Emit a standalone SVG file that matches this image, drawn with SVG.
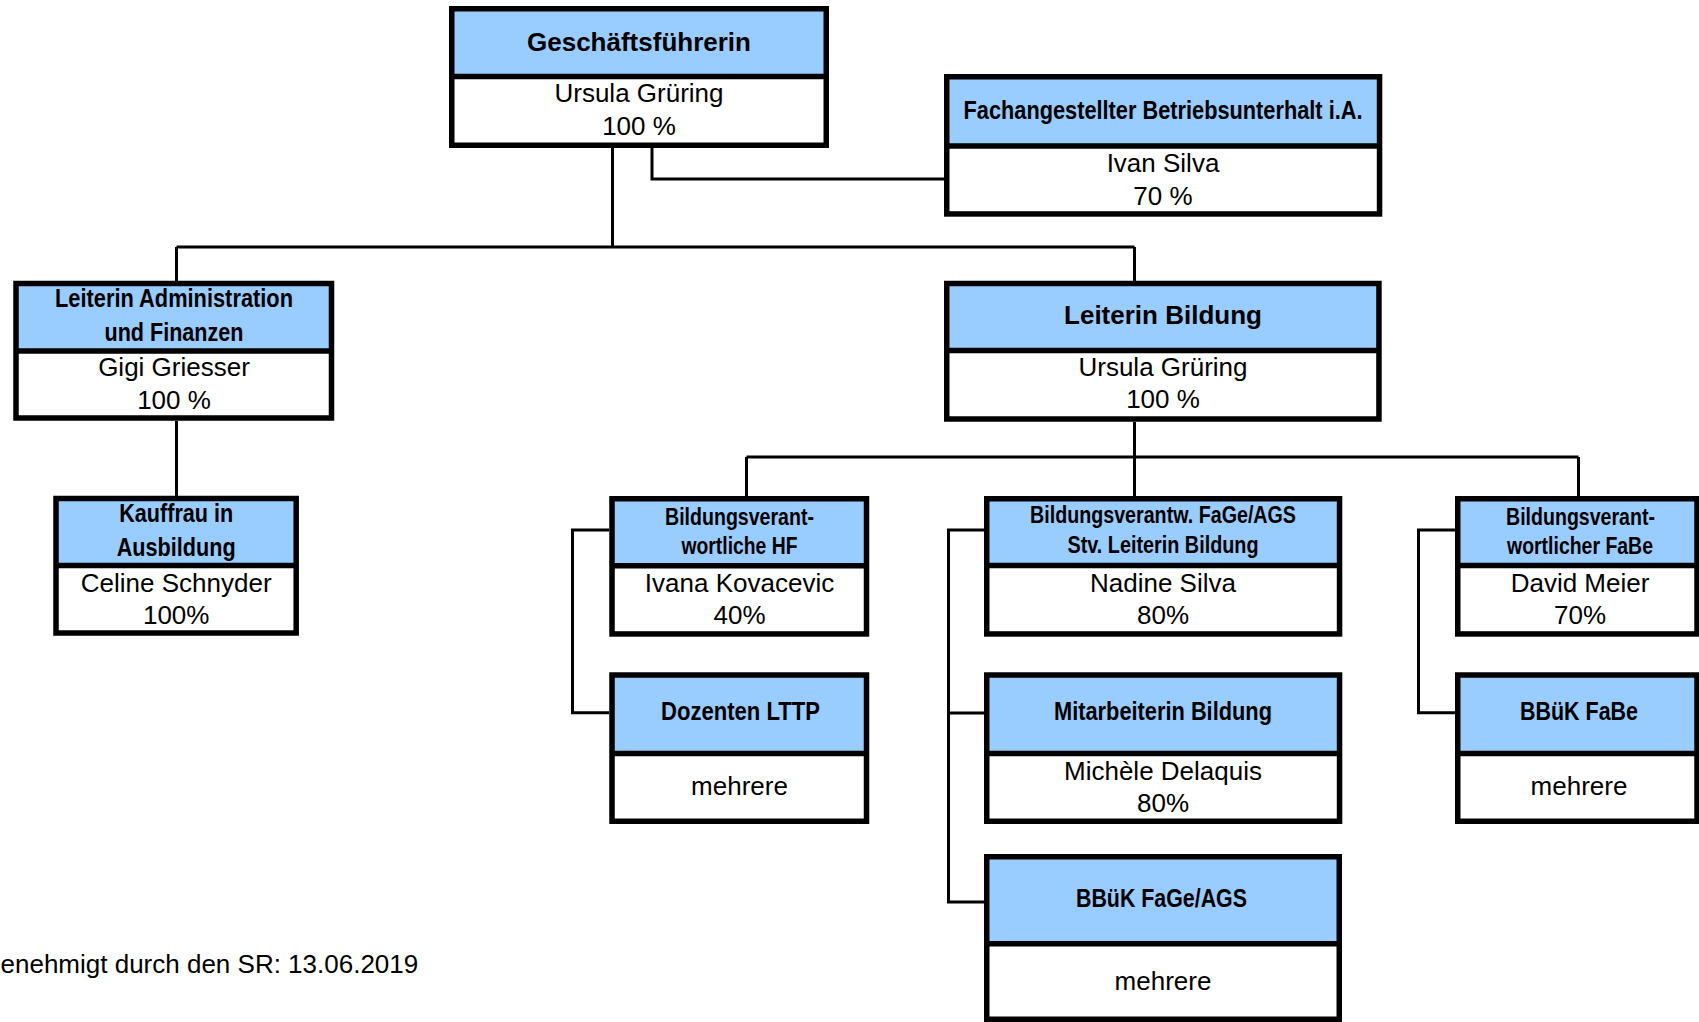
<svg xmlns="http://www.w3.org/2000/svg" width="1699" height="1022" viewBox="0 0 1699 1022">
<style>
.hd{fill:#99CCFF;stroke:none}
.bd{fill:#FFFFFF;stroke:none}
.fr{fill:none;stroke:#000;stroke-width:5.5}
.dv{stroke:#000;stroke-width:5.5}
.cn{fill:none;stroke:#000;stroke-width:3}
.t{font-family:"Liberation Sans",Arial,sans-serif;font-size:26px;fill:#000;text-anchor:middle}
.b{font-family:"Liberation Sans",Arial,sans-serif;font-size:26px;font-weight:bold;fill:#000;text-anchor:middle}
.n{font-family:"Liberation Sans Narrow","Arial Narrow","Liberation Sans",sans-serif;font-stretch:condensed;font-size:26px;font-weight:bold;fill:#000;text-anchor:middle}
.n24{font-size:24px}
.ft{font-family:"Liberation Sans",Arial,sans-serif;font-size:26px;fill:#000}
</style>
<rect width="1699" height="1022" fill="#FFFFFF"/>
<g id="connectors">
<path class="cn" d="M612.5,148 V247"/>
<path class="cn" d="M176.5,247 H1134.5"/>
<path class="cn" d="M176.5,247 V281"/>
<path class="cn" d="M1134.5,247 V281"/>
<path class="cn" d="M652,148 V179 H944"/>
<path class="cn" d="M176.5,421 V496"/>
<path class="cn" d="M1134.5,422 V496"/>
<path class="cn" d="M746.5,457 H1578.5"/>
<path class="cn" d="M746.5,457 V496"/>
<path class="cn" d="M1578.5,457 V496"/>
<path class="cn" d="M609,530 H572.5 V712.7 H609"/>
<path class="cn" d="M984,530 H948.5 V902 H984"/>
<path class="cn" d="M948.5,713 H984"/>
<path class="cn" d="M1455,530 H1418.5 V712.7 H1455"/>
</g>
<g id="gf">
<rect class="hd" x="452" y="9" width="374" height="67.5"/>
<rect class="bd" x="452" y="76.5" width="374" height="69"/>
<rect class="fr" x="451.75" y="8.75" width="374.5" height="136.5"/>
<line class="dv" x1="452" y1="76.5" x2="826" y2="76.5"/>
<text class="b" x="639" y="50.5">Geschäftsführerin</text>
<text class="t" x="639" y="101.5">Ursula Grüring</text>
<text class="t" x="639" y="135">100 %</text>
</g>
<g id="fach">
<rect class="hd" x="946.75" y="76.75" width="432.8" height="69.25"/>
<rect class="bd" x="946.75" y="146" width="432.8" height="68"/>
<rect class="fr" x="946.75" y="76.75" width="432.8" height="137.2"/>
<line class="dv" x1="946.75" y1="146" x2="1379.55" y2="146"/>
<text class="n" x="1163" y="119" textLength="399" lengthAdjust="spacingAndGlyphs">Fachangestellter Betriebsunterhalt i.A.</text>
<text class="t" x="1163" y="171.5">Ivan Silva</text>
<text class="t" x="1163" y="205">70 %</text>
</g>
<g id="laf">
<rect class="hd" x="16" y="283.5" width="315.5" height="67.5"/>
<rect class="bd" x="16" y="351" width="315.5" height="67"/>
<rect class="fr" x="16" y="283.5" width="315.5" height="134.5"/>
<line class="dv" x1="16" y1="351" x2="331.5" y2="351"/>
<text class="n" x="174" y="306.5" textLength="238" lengthAdjust="spacingAndGlyphs">Leiterin Administration</text>
<text class="n" x="174" y="341" textLength="139" lengthAdjust="spacingAndGlyphs">und Finanzen</text>
<text class="t" x="174" y="376">Gigi Griesser</text>
<text class="t" x="174" y="408.5">100 %</text>
</g>
<g id="lb">
<rect class="hd" x="946.75" y="283.5" width="432.2" height="67"/>
<rect class="bd" x="946.75" y="350.5" width="432.2" height="68.5"/>
<rect class="fr" x="946.75" y="283.5" width="432.2" height="135.5"/>
<line class="dv" x1="946.75" y1="350.5" x2="1378.95" y2="350.5"/>
<text class="b" x="1163" y="324">Leiterin Bildung</text>
<text class="t" x="1163" y="376">Ursula Grüring</text>
<text class="t" x="1163" y="407.5">100 %</text>
</g>
<g id="kauf">
<rect class="hd" x="56" y="498.5" width="240.2" height="67"/>
<rect class="bd" x="56" y="565.5" width="240.2" height="67.5"/>
<rect class="fr" x="56" y="498.5" width="240.2" height="134.5"/>
<line class="dv" x1="56" y1="565.5" x2="296.2" y2="565.5"/>
<text class="n" x="176.2" y="522" textLength="114" lengthAdjust="spacingAndGlyphs">Kauffrau in</text>
<text class="n" x="176.2" y="555.5" textLength="119" lengthAdjust="spacingAndGlyphs">Ausbildung</text>
<text class="t" x="176.2" y="591.5">Celine Schnyder</text>
<text class="t" x="176.2" y="624">100%</text>
</g>
<g id="hf">
<rect class="hd" x="612" y="498.75" width="254.5" height="67"/>
<rect class="bd" x="612" y="565.75" width="254.5" height="68.2"/>
<rect class="fr" x="612" y="498.75" width="254.5" height="135.2"/>
<line class="dv" x1="612" y1="565.75" x2="866.5" y2="565.75"/>
<text class="n n24" x="739.5" y="525" textLength="149" lengthAdjust="spacingAndGlyphs">Bildungsverant-</text>
<text class="n n24" x="739.5" y="554" textLength="116" lengthAdjust="spacingAndGlyphs">wortliche HF</text>
<text class="t" x="739.5" y="591.5">Ivana Kovacevic</text>
<text class="t" x="739.5" y="623.5">40%</text>
</g>
<g id="fage">
<rect class="hd" x="986.75" y="498.75" width="352.8" height="66.75"/>
<rect class="bd" x="986.75" y="565.5" width="352.8" height="68.45"/>
<rect class="fr" x="986.75" y="498.75" width="352.8" height="135.2"/>
<line class="dv" x1="986.75" y1="565.5" x2="1339.55" y2="565.5"/>
<text class="n n24" x="1163" y="522.7" textLength="266" lengthAdjust="spacingAndGlyphs">Bildungsverantw. FaGe/AGS</text>
<text class="n n24" x="1163" y="553.3" textLength="191" lengthAdjust="spacingAndGlyphs">Stv. Leiterin Bildung</text>
<text class="t" x="1163" y="591.5">Nadine Silva</text>
<text class="t" x="1163" y="624">80%</text>
</g>
<g id="fabe">
<rect class="hd" x="1457.75" y="498.75" width="239.25" height="66.75"/>
<rect class="bd" x="1457.75" y="565.5" width="239.25" height="68.45"/>
<rect class="fr" x="1457.75" y="498.75" width="239.25" height="135.2"/>
<line class="dv" x1="1457.75" y1="565.5" x2="1697" y2="565.5"/>
<text class="n n24" x="1580.5" y="524.5" textLength="149" lengthAdjust="spacingAndGlyphs">Bildungsverant-</text>
<text class="n n24" x="1580" y="554" textLength="146" lengthAdjust="spacingAndGlyphs">wortlicher FaBe</text>
<text class="t" x="1580" y="591.5">David Meier</text>
<text class="t" x="1580" y="623.5">70%</text>
</g>
<g id="doz">
<rect class="hd" x="612" y="675" width="254.5" height="78.5"/>
<rect class="bd" x="612" y="753.5" width="254.5" height="67.75"/>
<rect class="fr" x="612" y="675" width="254.5" height="146.25"/>
<line class="dv" x1="612" y1="753.5" x2="866.5" y2="753.5"/>
<text class="n" x="740.5" y="720" textLength="159" lengthAdjust="spacingAndGlyphs">Dozenten LTTP</text>
<text class="t" x="739.5" y="795">mehrere</text>
</g>
<g id="mit">
<rect class="hd" x="986.75" y="675" width="352.8" height="78.5"/>
<rect class="bd" x="986.75" y="753.5" width="352.8" height="67.75"/>
<rect class="fr" x="986.75" y="675" width="352.8" height="146.25"/>
<line class="dv" x1="986.75" y1="753.5" x2="1339.55" y2="753.5"/>
<text class="n" x="1163" y="720" textLength="218" lengthAdjust="spacingAndGlyphs">Mitarbeiterin Bildung</text>
<text class="t" x="1163" y="779.5">Michèle Delaquis</text>
<text class="t" x="1163" y="811.5">80%</text>
</g>
<g id="bbuek-fabe">
<rect class="hd" x="1457.75" y="675" width="239.25" height="78.5"/>
<rect class="bd" x="1457.75" y="753.5" width="239.25" height="67.75"/>
<rect class="fr" x="1457.75" y="675" width="239.25" height="146.25"/>
<line class="dv" x1="1457.75" y1="753.5" x2="1697" y2="753.5"/>
<text class="n" x="1579" y="720" textLength="118" lengthAdjust="spacingAndGlyphs">BBüK FaBe</text>
<text class="t" x="1579" y="795">mehrere</text>
</g>
<g id="bbuek-fage">
<rect class="hd" x="986.75" y="856.75" width="352.5" height="87"/>
<rect class="bd" x="986.75" y="943.75" width="352.5" height="75.5"/>
<rect class="fr" x="986.75" y="856.75" width="352.5" height="162.5"/>
<line class="dv" x1="986.75" y1="943.75" x2="1339.25" y2="943.75"/>
<text class="n" x="1161.5" y="906.5" textLength="171" lengthAdjust="spacingAndGlyphs">BBüK FaGe/AGS</text>
<text class="t" x="1163" y="990">mehrere</text>
</g>
<g id="footer">
<text class="ft" x="0.5" y="973">enehmigt durch den SR: 13.06.2019</text>
</g>
</svg>
